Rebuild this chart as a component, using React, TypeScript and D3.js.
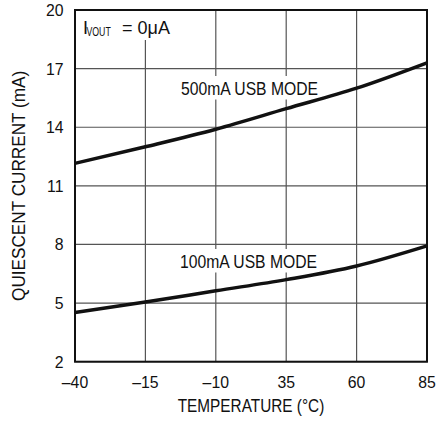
import React from "react";
import * as d3 from "d3";

const temps = [-40, -15, 10, 35, 60, 85];
const usb500 = [12.15, 13.0, 13.9, 14.95, 16.0, 17.3];
const usb100 = [4.52, 5.05, 5.63, 6.2, 6.9, 7.93];
const xTickValues = [-40, -15, 10, 35, 60, 85];
const xTickLabels = ["–40", "–15", "–10", "35", "60", "85"];
const yTicks = [2, 5, 8, 11, 14, 17, 20];
const seriesLabels = ["500mA USB MODE", "100mA USB MODE"];

const W = 436;
const H = 421;
const M = { left: 75, right: 9, top: 10, bottom: 59.3 };
const FONT = "'Liberation Sans', Arial, sans-serif";

export default function App() {
  const x = d3.scaleLinear().domain([-40, 85]).range([M.left, W - M.right]);
  const y = d3.scaleLinear().domain([2, 20]).range([H - M.bottom, M.top]);
  const line = d3
    .line<number>()
    .x((_, i) => x(temps[i]))
    .y((d) => y(d))
    .curve(d3.curveMonotoneX);

  const grid = "#555";
  const labelPos = [
    { x: 181, base: 95 },
    { x: 180, base: 268 },
  ];

  return (
    <svg
      width={W}
      height={H}
      style={{ position: "absolute", left: 0, top: 0, background: "#fff" }}
      fontFamily={FONT}
    >
      <rect x={0} y={0} width={W} height={H} fill="#fff" />
      {/* grid */}
      {yTicks.map((t) => (
        <line key={"h" + t} x1={x(-40)} x2={x(85)} y1={y(t)} y2={y(t)} stroke={grid} strokeWidth={1.2} />
      ))}
      {xTickValues.map((t) => (
        <line key={"v" + t} x1={x(t)} x2={x(t)} y1={y(2)} y2={y(20)} stroke={grid} strokeWidth={1.2} />
      ))}
      {/* label backgrounds */}
      <rect x={x(-40) + 2} y={y(20) + 1} width={100} height={29} fill="#fff" />
      {labelPos.map((p, i) => (
        <rect key={"bg" + i} x={p.x - 3} y={p.base - 19} width={144} height={23.5} fill="#fff" />
      ))}
      {/* border */}
      <rect
        x={x(-40)}
        y={y(20)}
        width={x(85) - x(-40)}
        height={y(2) - y(20)}
        fill="none"
        stroke="#111"
        strokeWidth={2}
      />
      {/* curves */}
      <path d={line(usb500) || ""} fill="none" stroke="#111" strokeWidth={3.5} />
      <path d={line(usb100) || ""} fill="none" stroke="#111" strokeWidth={3.5} />
      {/* series labels */}
      {labelPos.map((p, i) => (
        <text
          key={"lab" + i}
          transform={`translate(${p.x},${p.base}) scale(0.85,1)`}
          fontSize={18.5}
          fill="#111"
        >
          {seriesLabels[i]}
        </text>
      ))}
      {/* condition label */}
      <text x={83} y={33.5} fontSize={18} fill="#111">I</text>
      <text transform="translate(86.5,35.5) scale(0.7,1)" fontSize={12.5} fill="#111">
        VOUT
      </text>
      <text x={122} y={33.5} fontSize={18} fill="#111">
        {"= 0μA"}
      </text>
      {/* x ticks */}
      {xTickValues.map((t, i) => (
        <text
          key={"xt" + t}
          transform={`translate(${x(t)},387.5) scale(0.93,1)`}
          fontSize={17}
          textAnchor="middle"
          fill="#111"
        >
          {xTickLabels[i]}
        </text>
      ))}
      {/* y ticks */}
      {yTicks.map((t) => (
        <text
          key={"yt" + t}
          transform={`translate(63.5,${y(t) + 6}) scale(0.93,1)`}
          fontSize={17}
          textAnchor="end"
          fill="#111"
        >
          {t}
        </text>
      ))}
      <text
        transform={`translate(${(x(-40) + x(85)) / 2},411.7) scale(0.83,1)`}
        fontSize={18.5}
        textAnchor="middle"
        fill="#111"
      >
        TEMPERATURE (°C)
      </text>
      <text
        transform={`translate(25, ${(y(2) + y(20)) / 2}) rotate(-90) scale(0.955,1)`}
        fontSize={18}
        textAnchor="middle"
        fill="#111"
      >
        QUIESCENT CURRENT (mA)
      </text>
    </svg>
  );
}
